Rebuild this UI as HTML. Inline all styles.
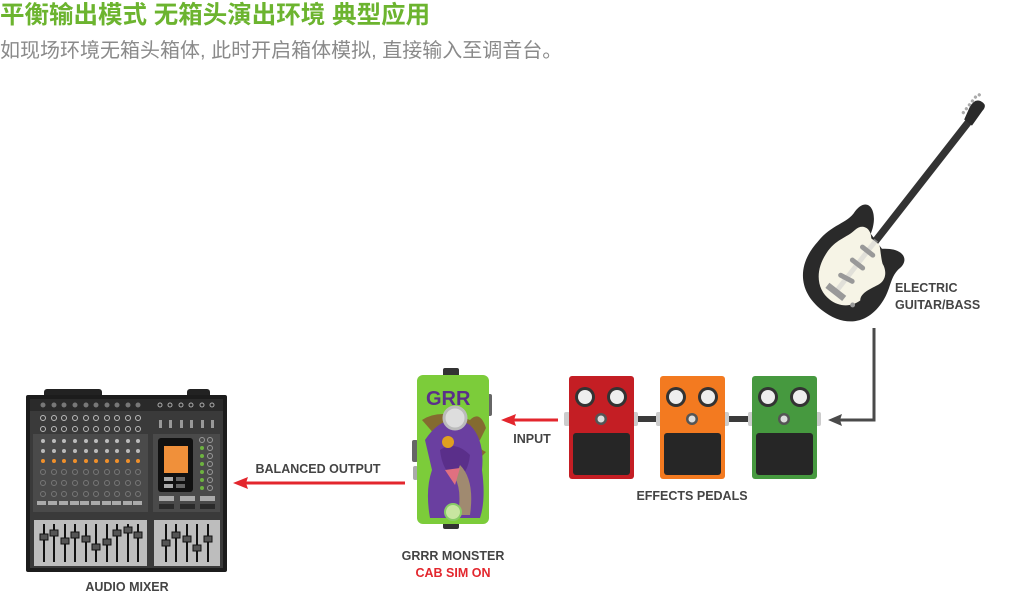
<!DOCTYPE html>
<html><head><meta charset="utf-8"><style>
html,body{margin:0;padding:0;background:#fff;width:1024px;height:594px;overflow:hidden}
svg{display:block}
text{font-family:"Liberation Sans","Noto Sans CJK SC",sans-serif}
</style></head><body>
<svg width="1024" height="594" viewBox="0 0 1024 594" xmlns="http://www.w3.org/2000/svg">
<text x="0" y="23" font-size="24.5" font-weight="bold" fill="#6cb42f">平衡输出模式 无箱头演出环境 典型应用</text>
<text x="0" y="57" font-size="20" fill="#8a8a8a">如现场环境无箱头箱体, 此时开启箱体模拟, 直接输入至调音台。</text>

<!-- mixer -->
<rect x="44" y="389" width="58" height="10" rx="3" fill="#222"/>
<rect x="187" y="389" width="23" height="10" rx="3" fill="#222"/>
<rect x="26" y="395" width="201" height="177" rx="2" fill="#1c1c1c"/>
<rect x="30" y="399" width="193" height="169" fill="#3a3a3a"/>
<rect x="30" y="399" width="193" height="12" fill="#2a2a2a"/>
<g fill="#777">
<circle cx="43" cy="405" r="2.5"/><circle cx="54" cy="405" r="2.5"/><circle cx="64" cy="405" r="2.5"/><circle cx="75" cy="405" r="2.5"/><circle cx="86" cy="405" r="2.5"/><circle cx="96" cy="405" r="2.5"/><circle cx="107" cy="405" r="2.5"/><circle cx="117" cy="405" r="2.5"/><circle cx="128" cy="405" r="2.5"/><circle cx="138" cy="405" r="2.5"/>
</g>
<g fill="none" stroke="#aaa" stroke-width="1">
<circle cx="160" cy="405" r="2"/><circle cx="170" cy="405" r="2"/><circle cx="181" cy="405" r="2"/><circle cx="191" cy="405" r="2"/><circle cx="202" cy="405" r="2"/><circle cx="212" cy="405" r="2"/>
</g>
<g fill="none" stroke="#bbb" stroke-width="1">
<circle cx="43" cy="418" r="2.5"/><circle cx="54" cy="418" r="2.5"/><circle cx="64" cy="418" r="2.5"/><circle cx="75" cy="418" r="2.5"/><circle cx="86" cy="418" r="2.5"/><circle cx="96" cy="418" r="2.5"/><circle cx="107" cy="418" r="2.5"/><circle cx="117" cy="418" r="2.5"/><circle cx="128" cy="418" r="2.5"/><circle cx="138" cy="418" r="2.5"/>
<circle cx="43" cy="429" r="2.5"/><circle cx="54" cy="429" r="2.5"/><circle cx="64" cy="429" r="2.5"/><circle cx="75" cy="429" r="2.5"/><circle cx="86" cy="429" r="2.5"/><circle cx="96" cy="429" r="2.5"/><circle cx="107" cy="429" r="2.5"/><circle cx="117" cy="429" r="2.5"/><circle cx="128" cy="429" r="2.5"/><circle cx="138" cy="429" r="2.5"/>
</g>
<g fill="#999"><rect x="159" y="420" width="3" height="8"/><rect x="169" y="420" width="3" height="8"/><rect x="180" y="420" width="3" height="8"/><rect x="190" y="420" width="3" height="8"/><rect x="201" y="420" width="3" height="8"/><rect x="211" y="420" width="3" height="8"/></g>
<rect x="33" y="434" width="115" height="78" fill="#4a4a4a"/>
<rect x="153" y="434" width="67" height="78" fill="#4a4a4a"/>
<g fill="#bbb"><circle cx="43" cy="441" r="2"/><circle cx="54" cy="441" r="2"/><circle cx="64" cy="441" r="2"/><circle cx="75" cy="441" r="2"/><circle cx="86" cy="441" r="2"/><circle cx="96" cy="441" r="2"/><circle cx="107" cy="441" r="2"/><circle cx="117" cy="441" r="2"/><circle cx="128" cy="441" r="2"/><circle cx="138" cy="441" r="2"/>
<circle cx="43" cy="451" r="2"/><circle cx="54" cy="451" r="2"/><circle cx="64" cy="451" r="2"/><circle cx="75" cy="451" r="2"/><circle cx="86" cy="451" r="2"/><circle cx="96" cy="451" r="2"/><circle cx="107" cy="451" r="2"/><circle cx="117" cy="451" r="2"/><circle cx="128" cy="451" r="2"/><circle cx="138" cy="451" r="2"/></g>
<g fill="#f0902a"><circle cx="43" cy="461" r="2"/><circle cx="54" cy="461" r="2"/><circle cx="64" cy="461" r="2"/><circle cx="75" cy="461" r="2"/><circle cx="86" cy="461" r="2"/><circle cx="96" cy="461" r="2"/><circle cx="107" cy="461" r="2"/><circle cx="117" cy="461" r="2"/><circle cx="128" cy="461" r="2"/><circle cx="138" cy="461" r="2"/></g>
<g fill="none" stroke="#777"><circle cx="43" cy="472" r="2.5"/><circle cx="54" cy="472" r="2.5"/><circle cx="64" cy="472" r="2.5"/><circle cx="75" cy="472" r="2.5"/><circle cx="86" cy="472" r="2.5"/><circle cx="96" cy="472" r="2.5"/><circle cx="107" cy="472" r="2.5"/><circle cx="117" cy="472" r="2.5"/><circle cx="128" cy="472" r="2.5"/><circle cx="138" cy="472" r="2.5"/>
<circle cx="43" cy="483" r="2.5"/><circle cx="54" cy="483" r="2.5"/><circle cx="64" cy="483" r="2.5"/><circle cx="75" cy="483" r="2.5"/><circle cx="86" cy="483" r="2.5"/><circle cx="96" cy="483" r="2.5"/><circle cx="107" cy="483" r="2.5"/><circle cx="117" cy="483" r="2.5"/><circle cx="128" cy="483" r="2.5"/><circle cx="138" cy="483" r="2.5"/>
<circle cx="43" cy="494" r="2.5"/><circle cx="54" cy="494" r="2.5"/><circle cx="64" cy="494" r="2.5"/><circle cx="75" cy="494" r="2.5"/><circle cx="86" cy="494" r="2.5"/><circle cx="96" cy="494" r="2.5"/><circle cx="107" cy="494" r="2.5"/><circle cx="117" cy="494" r="2.5"/><circle cx="128" cy="494" r="2.5"/><circle cx="138" cy="494" r="2.5"/></g>
<g fill="#aaa"><rect x="37" y="501" width="9" height="4"/><rect x="48" y="501" width="9" height="4"/><rect x="59" y="501" width="9" height="4"/><rect x="70" y="501" width="9" height="4"/><rect x="80" y="501" width="9" height="4"/><rect x="91" y="501" width="9" height="4"/><rect x="102" y="501" width="9" height="4"/><rect x="112" y="501" width="9" height="4"/><rect x="123" y="501" width="9" height="4"/><rect x="133" y="501" width="9" height="4"/></g>
<rect x="158" y="438" width="35" height="54" rx="3" fill="#111"/>
<rect x="164" y="446" width="24" height="27" fill="#f0903a"/>
<rect x="164" y="477" width="9" height="4" fill="#aaa"/><rect x="176" y="477" width="9" height="4" fill="#666"/>
<rect x="164" y="484" width="9" height="4" fill="#aaa"/><rect x="176" y="484" width="9" height="4" fill="#666"/>
<g fill="#6db33f"><circle cx="202" cy="448" r="2"/><circle cx="202" cy="456" r="2"/><circle cx="202" cy="464" r="2"/><circle cx="202" cy="472" r="2"/><circle cx="202" cy="480" r="2"/><circle cx="202" cy="488" r="2"/></g>
<g fill="none" stroke="#999"><circle cx="210" cy="440" r="2.5"/><circle cx="210" cy="448" r="2.5"/><circle cx="210" cy="456" r="2.5"/><circle cx="210" cy="464" r="2.5"/><circle cx="210" cy="472" r="2.5"/><circle cx="210" cy="480" r="2.5"/><circle cx="210" cy="488" r="2.5"/><circle cx="202" cy="440" r="2.5"/></g>
<g fill="#aaa"><rect x="159" y="496" width="15" height="5"/><rect x="180" y="496" width="15" height="5"/><rect x="200" y="496" width="15" height="5"/></g>
<g fill="#2a2a2a"><rect x="159" y="504" width="15" height="5"/><rect x="180" y="504" width="15" height="5"/><rect x="200" y="504" width="15" height="5"/></g>
<rect x="34" y="520" width="113" height="46" fill="#bdbdbd"/>
<rect x="154" y="520" width="66" height="46" fill="#bdbdbd"/>
<g fill="#111"><rect x="43" y="524" width="2" height="38"/><rect x="53" y="524" width="2" height="38"/><rect x="64" y="524" width="2" height="38"/><rect x="74" y="524" width="2" height="38"/><rect x="85" y="524" width="2" height="38"/><rect x="95" y="524" width="2" height="38"/><rect x="106" y="524" width="2" height="38"/><rect x="116" y="524" width="2" height="38"/><rect x="127" y="524" width="2" height="38"/><rect x="137" y="524" width="2" height="38"/>
<rect x="165" y="524" width="2" height="38"/><rect x="175" y="524" width="2" height="38"/><rect x="186" y="524" width="2" height="38"/><rect x="196" y="524" width="2" height="38"/><rect x="207" y="524" width="2" height="38"/></g>
<g fill="#555" stroke="#111"><rect x="40" y="534" width="8" height="6"/><rect x="50" y="530" width="8" height="6"/><rect x="61" y="538" width="8" height="6"/><rect x="71" y="532" width="8" height="6"/><rect x="82" y="536" width="8" height="6"/><rect x="92" y="544" width="8" height="6"/><rect x="103" y="539" width="8" height="6"/><rect x="113" y="530" width="8" height="6"/><rect x="124" y="527" width="8" height="6"/><rect x="134" y="532" width="8" height="6"/>
<rect x="162" y="540" width="8" height="6"/><rect x="172" y="532" width="8" height="6"/><rect x="183" y="536" width="8" height="6"/><rect x="193" y="545" width="8" height="6"/><rect x="204" y="536" width="8" height="6"/></g>
<text x="127" y="591" font-size="12.5" font-weight="bold" fill="#444" text-anchor="middle">AUDIO MIXER</text>

<!-- balanced output arrow -->
<line x1="405" y1="483" x2="245" y2="483" stroke="#e3262d" stroke-width="3"/>
<polygon points="233,483 248,477 246,483 248,489" fill="#e3262d"/>
<text x="318" y="473" font-size="12.5" font-weight="bold" fill="#444" text-anchor="middle">BALANCED OUTPUT</text>

<!-- monster pedal -->
<rect x="443" y="368" width="16" height="9" rx="2" fill="#333"/>
<rect x="443" y="520" width="16" height="9" rx="2" fill="#333"/>
<rect x="486" y="394" width="6" height="22" rx="2" fill="#666"/>
<rect x="412" y="440" width="6" height="22" rx="2" fill="#666"/>
<rect x="413" y="466" width="5" height="14" rx="2" fill="#aaa"/>
<rect x="417" y="375" width="72" height="149" rx="6" fill="#7ccc3a"/>
<path d="M422 420 Q440 408 470 420 Q480 410 486 428 L480 440 Q472 445 486 452 L478 460 Q486 470 470 475 Z" fill="#8a2a2a" opacity="0.6"/>
<path d="M425 440 Q445 410 470 425 Q485 440 482 470 Q486 500 480 518 L430 518 Q425 490 432 470 Z" fill="#6a3fa0"/>
<path d="M440 450 Q455 440 470 455 Q468 475 455 480 Q442 470 440 450Z" fill="#5a2f8a"/>
<path d="M460 465 Q475 480 470 515 L458 515 Q462 490 455 478 Z" fill="#a08a70"/>
<circle cx="448" cy="442" r="6" fill="#e0a020"/>
<path d="M445 470 L460 468 L455 485 Z" fill="#e07080"/>
<text x="426" y="405" font-size="20" font-weight="bold" fill="#5a2f8a">GRR</text>
<circle cx="455" cy="418" r="11" fill="#ddd" stroke="#bbb" stroke-width="3"/>
<circle cx="453" cy="512" r="8" fill="#c8e6a0" stroke="#8c6" stroke-width="2"/>
<text x="453" y="560" font-size="12.5" font-weight="bold" fill="#444" text-anchor="middle">GRRR MONSTER</text>
<text x="453" y="577" font-size="12.5" font-weight="bold" fill="#e3262d" text-anchor="middle">CAB SIM ON</text>

<!-- input arrow -->
<line x1="558" y1="420" x2="512" y2="420" stroke="#e3262d" stroke-width="3"/>
<polygon points="501,420 516,414 514,420 516,426" fill="#e3262d"/>
<text x="532" y="443" font-size="12.5" font-weight="bold" fill="#444" text-anchor="middle">INPUT</text>

<!-- connectors between pedals -->
<rect x="634" y="416" width="26" height="6" fill="#3a3a3a"/>
<rect x="725" y="416" width="26" height="6" fill="#3a3a3a"/>
<g fill="#ccc"><rect x="564" y="412" width="6" height="14" rx="2"/><rect x="632" y="412" width="6" height="14" rx="2"/><rect x="656" y="412" width="6" height="14" rx="2"/><rect x="723" y="412" width="6" height="14" rx="2"/><rect x="748" y="412" width="6" height="14" rx="2"/><rect x="815" y="412" width="6" height="14" rx="2"/></g>

<!-- pedals -->
<g>
<rect x="569" y="376" width="65" height="103" rx="3" fill="#c41e24"/>
<rect x="573" y="433" width="57" height="42" rx="3" fill="#262626"/>
<circle cx="585" cy="397" r="10" fill="#333"/><circle cx="585" cy="397" r="7" fill="#eee"/>
<circle cx="617" cy="397" r="10" fill="#333"/><circle cx="617" cy="397" r="7" fill="#eee"/>
<circle cx="601" cy="419" r="6" fill="#555"/><circle cx="601" cy="419" r="3.5" fill="#ddd"/>
</g>
<g>
<rect x="660" y="376" width="65" height="103" rx="3" fill="#f37a20"/>
<rect x="664" y="433" width="57" height="42" rx="3" fill="#262626"/>
<circle cx="676" cy="397" r="10" fill="#333"/><circle cx="676" cy="397" r="7" fill="#eee"/>
<circle cx="708" cy="397" r="10" fill="#333"/><circle cx="708" cy="397" r="7" fill="#eee"/>
<circle cx="692" cy="419" r="6" fill="#555"/><circle cx="692" cy="419" r="3.5" fill="#ddd"/>
</g>
<g>
<rect x="752" y="376" width="65" height="103" rx="3" fill="#46993f"/>
<rect x="756" y="433" width="57" height="42" rx="3" fill="#262626"/>
<circle cx="768" cy="397" r="10" fill="#333"/><circle cx="768" cy="397" r="7" fill="#eee"/>
<circle cx="800" cy="397" r="10" fill="#333"/><circle cx="800" cy="397" r="7" fill="#eee"/>
<circle cx="784" cy="419" r="6" fill="#555"/><circle cx="784" cy="419" r="3.5" fill="#ddd"/>
</g>
<text x="692" y="500" font-size="12.5" font-weight="bold" fill="#444" text-anchor="middle">EFFECTS PEDALS</text>

<!-- guitar connector -->
<polyline points="874,328 874,420 838,420" fill="none" stroke="#4a4a4a" stroke-width="3"/>
<polygon points="828,420 842,414 840,420 842,426" fill="#4a4a4a"/>

<!-- guitar -->
<g transform="translate(856,266) rotate(38) scale(0.82)">
<rect x="-4.5" y="-225" width="9" height="190" fill="#333"/>
<path d="M-6,-222 L-10,-238 Q-12,-250 -4,-252 Q6,-254 5,-244 L6,-222 Z" fill="#2a2a2a"/>
<g fill="#aaa"><circle cx="-12" cy="-240" r="2"/><circle cx="-12" cy="-234" r="2"/><circle cx="-12" cy="-228" r="2"/><circle cx="-12" cy="-246" r="2"/><circle cx="-12" cy="-252" r="2"/><circle cx="-10" cy="-257" r="2"/></g>
<path d="M-10,-42 C-18,-70 -42,-78 -42,-52 C-40,-34 -55,-22 -55,5 C-58,45 -35,68 0,68 C35,68 56,48 52,12 C50,-6 40,-16 44,-32 C46,-48 30,-52 12,-36 Z" fill="#2a2a2a"/>
<path d="M-6,-38 C-14,-48 -26,-46 -28,-34 C-30,-20 -40,-10 -38,10 C-36,36 -20,52 0,52 C14,52 26,44 30,30 C24,22 32,10 36,0 C40,-12 30,-20 24,-22 C16,-28 10,-36 6,-38 Z" fill="#f6f4e6"/>
<rect x="-3" y="-40" width="6" height="80" fill="#ccc" opacity="0.5"/>
<rect x="-11" y="-26" width="22" height="6" rx="3" fill="#999"/>
<rect x="-11" y="-6" width="22" height="6" rx="3" fill="#999"/>
<rect x="-11" y="16" width="22" height="6" rx="3" fill="#999" transform="rotate(-10 0 19)"/>
<rect x="-13" y="36" width="26" height="8" fill="#999"/>
<circle cx="26" cy="40" r="3" fill="#999"/>
</g>
<text x="895" y="292" font-size="12.5" font-weight="bold" fill="#444">ELECTRIC</text>
<text x="895" y="309" font-size="12.5" font-weight="bold" fill="#444">GUITAR/BASS</text>
</svg>
</body></html>
